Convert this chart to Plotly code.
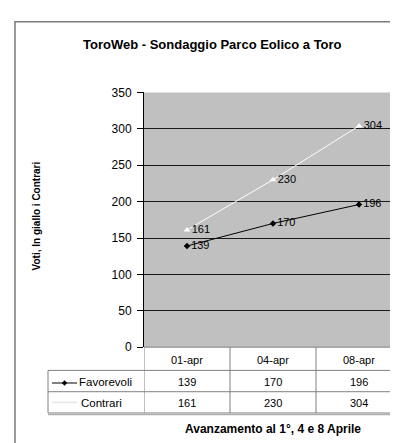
import plotly.graph_objects as go

categories = ["01-apr", "04-apr", "08-apr"]
favorevoli = [139, 170, 196]
contrari = [161, 230, 304]
series_names = ["Favorevoli", "Contrari"]
y_ticks = [0, 50, 100, 150, 200, 250, 300, 350]

W, H = 398, 443
FONT = "Arial, Liberation Sans, sans-serif"


def px(x):
    return x / W


def py(y):
    return 1 - y / H


fig = go.Figure()
fig.add_trace(go.Scatter(
    x=categories, y=favorevoli, mode="lines+markers+text",
    name=series_names[0],
    line=dict(color="black", width=1),
    marker=dict(symbol="diamond", size=5, color="black"),
    text=[str(v) for v in favorevoli], textposition="middle right",
    textfont=dict(family=FONT, size=11, color="black"),
    cliponaxis=False,
))
fig.add_trace(go.Scatter(
    x=categories, y=contrari, mode="lines+markers+text",
    name=series_names[1],
    line=dict(color="white", width=1),
    marker=dict(symbol="triangle-up", size=6, color="white"),
    text=[str(v) for v in contrari], textposition="middle right",
    textfont=dict(family=FONT, size=11, color="black"),
    cliponaxis=False,
))

shapes = []
# outer frame
shapes.append(dict(type="rect", xref="paper", yref="paper",
                   x0=px(7), x1=px(420), y0=py(470), y1=py(7),
                   line=dict(color="#7a7a7a", width=1.5)))

# table lines
tl = "#808080"
rows_y = [343, 367, 389, 411]
shapes.append(dict(type="line", xref="paper", yref="paper", x0=px(136), x1=px(395),
                   y0=py(343), y1=py(343), line=dict(color=tl, width=1)))
for yy in rows_y[1:]:
    shapes.append(dict(type="line", xref="paper", yref="paper", x0=px(40), x1=px(395),
                       y0=py(yy), y1=py(yy), line=dict(color=tl, width=1)))
shapes.append(dict(type="line", xref="paper", yref="paper", x0=px(40), x1=px(40),
                   y0=py(367), y1=py(411), line=dict(color=tl, width=1)))
for xx in [-0.5, 0.5, 1.5, 2.5]:
    shapes.append(dict(type="line", xref="x", yref="paper", x0=xx, x1=xx,
                       y0=py(343), y1=py(411), line=dict(color=tl, width=1)))
shapes.append(dict(type="line", xref="paper", yref="paper", x0=px(40), x1=px(396),
                   y0=py(412.5), y1=py(412.5), line=dict(color="#b0b0b0", width=1.5)))

# legend samples
row_c = [(367 + 389) / 2, (389 + 411) / 2]
shapes.append(dict(type="line", xref="paper", yref="paper", x0=px(44), x1=px(69),
                   y0=py(row_c[0] + 2), y1=py(row_c[0] + 2), line=dict(color="black", width=1)))
shapes.append(dict(type="path", xref="paper", yref="paper",
                   path=f"M {px(56.5)} {py(row_c[0]-0.5)} L {px(59)} {py(row_c[0]+2)} L {px(56.5)} {py(row_c[0]+4.5)} L {px(54)} {py(row_c[0]+2)} Z",
                   fillcolor="black", line=dict(color="black", width=0.5)))
shapes.append(dict(type="line", xref="paper", yref="paper", x0=px(44), x1=px(69),
                   y0=py(row_c[1]), y1=py(row_c[1]), line=dict(color="#e6e6e6", width=1.5)))

annotations = []
for c in categories:
    annotations.append(dict(x=c, xref="x", y=py(356), yref="paper", text=c, showarrow=False,
                            font=dict(family=FONT, size=11, color="black"),
                            xanchor="center", yanchor="middle"))
for vals, yc in [(favorevoli, row_c[0]), (contrari, row_c[1])]:
    for c, v in zip(categories, vals):
        annotations.append(dict(x=c, xref="x", y=py(yc + 1), yref="paper", text=str(v),
                                showarrow=False, font=dict(family=FONT, size=11, color="black"),
                                xanchor="center", yanchor="middle"))
annotations.append(dict(x=px(69), xref="paper", y=py(row_c[0] + 1), yref="paper",
                        text=series_names[0], showarrow=False,
                        font=dict(family=FONT, size=11.5, color="black"),
                        xanchor="left", yanchor="middle"))
annotations.append(dict(x=px(71), xref="paper", y=py(row_c[1] + 1), yref="paper",
                        text=series_names[1], showarrow=False,
                        font=dict(family=FONT, size=11.5, color="black"),
                        xanchor="left", yanchor="middle"))
annotations.append(dict(x=px(205), xref="paper", y=py(30), yref="paper",
                        text="<b>ToroWeb - Sondaggio Parco Eolico a Toro</b>", showarrow=False,
                        font=dict(family=FONT, size=13, color="black"),
                        xanchor="center", yanchor="middle"))
annotations.append(dict(x=px(265), xref="paper", y=py(428), yref="paper",
                        text="<b>Avanzamento al 1°, 4 e 8 Aprile</b>", showarrow=False,
                        font=dict(family=FONT, size=12, color="black"),
                        xanchor="center", yanchor="middle"))
annotations.append(dict(x=px(28), xref="paper", y=py(208), yref="paper",
                        text="<b>Voti, In giallo i Contrari</b>", showarrow=False, textangle=-90,
                        font=dict(family=FONT, size=10, color="black"),
                        xanchor="center", yanchor="middle"))

fig.update_layout(
    width=W, height=H,
    margin=dict(l=0, r=0, t=0, b=0),
    paper_bgcolor="white",
    plot_bgcolor="#c0c0c0",
    showlegend=False,
    shapes=shapes,
    annotations=annotations,
    xaxis=dict(domain=[px(136), px(394)], range=[-0.5, 2.5], type="category",
               showticklabels=False, showgrid=False, zeroline=False, ticks="",
               showline=False, fixedrange=True),
    yaxis=dict(domain=[py(343), py(80)], range=[0, 350], tickvals=y_ticks,
               showgrid=True, gridcolor="#1a1a1a", gridwidth=1, zeroline=False,
               showline=True, linecolor="black", linewidth=1,
               ticks="outside", ticklen=6, tickcolor="black", ticklabelstandoff=3,
               tickfont=dict(family=FONT, size=12, color="black"), fixedrange=True),
)

fig.write_html("out.html")
